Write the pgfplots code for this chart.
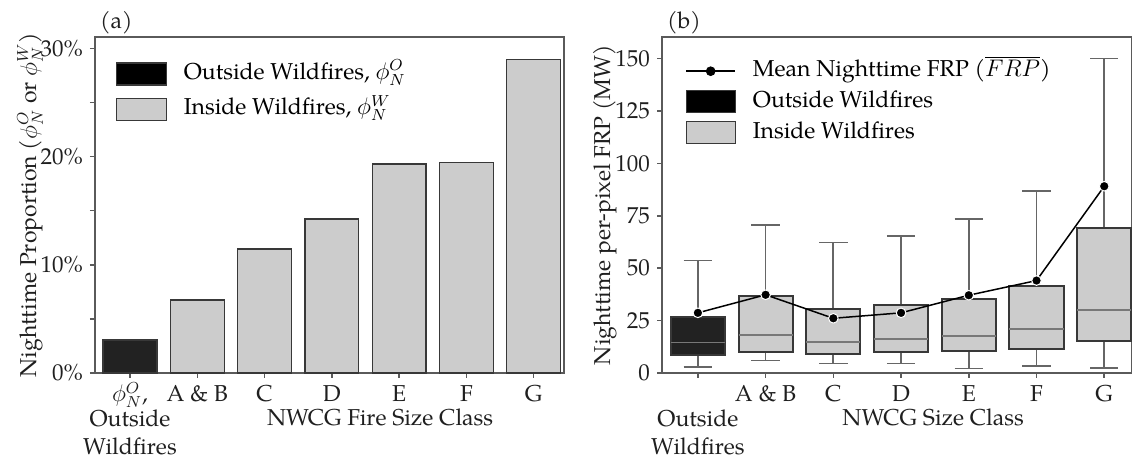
\documentclass[border=0pt]{standalone}
\usepackage{fontspec}
\setmainfont{TeX Gyre Pagella}
\usepackage{pgfplots}
\pgfplotsset{compat=1.18}
\usepgfplotslibrary{statistics}

\definecolor{axisgray}{HTML}{5A5A5A}
\definecolor{edgegray}{HTML}{383838}
\definecolor{whiskgray}{HTML}{666666}
\definecolor{medgray}{HTML}{787878}
\definecolor{darkfill}{HTML}{222222}
\definecolor{lightfill}{HTML}{CCCCCC}
\newcommand\fs{\fontsize{11.5}{14}\selectfont}

\pgfplotsset{
  panel/.style={
    scale only axis, width=234.5pt, height=168pt, clip=false,
    axis line style={draw=axisgray, line width=0.75pt},
    tick align=outside, major tick length=2.5pt, minor tick length=2.5pt,
    every tick/.style={draw=axisgray, line width=0.75pt},
    minor tick style={draw=axisgray, line width=0.75pt},
    xtick pos=bottom, ytick pos=left,
    tick label style={font=\fs, text=black!88},
    label style={font=\fs, text=black!88},
    ymin=0, xtick={0,...,6},
    xticklabel style={anchor=base, yshift=-12pt},
    legend style={font=\fs, draw=none, fill=none, inner sep=0pt,
      row sep=6pt, column sep=8.5pt, cells={anchor=west},
      nodes={inner sep=0pt, text height=8.5pt, text depth=2.8pt}},
  },
}

\begin{document}
\begin{tikzpicture}[font=\fs]
\useasboundingbox (0,0) rectangle (566pt,230pt);

% (a) nighttime proportion of detections by fire size class
\begin{axis}[panel, at={(47.5pt,43.5pt)}, anchor=south west,
  xmin=-0.52, xmax=6.45, ymax=31.05,
  ytick={0,10,20,30}, minor ytick={5,15,25},
  yticklabels={0\%,10\%,20\%,30\%},
  xticklabels={{$\phi_N^O$,},A \& B,C,D,E,F,G},
  ybar, bar width=0.8, bar shift=0pt,
  ylabel={Nighttime Proportion ($\phi_N^O$ or $\phi_N^W$)},
  ylabel style={at={(axis description cs:-0.124,0.5)}, anchor=base},
  xlabel={NWCG Fire Size Class},
  xlabel style={at={(axis description cs:0.608,-0.155)}, anchor=base},
  legend style={at={(axis description cs:0.043,0.926)}, anchor=north west},
]
\addplot[fill=darkfill, draw=edgegray, line width=0.65pt, forget plot]
  coordinates {(0,3.05)};
\addplot[fill=lightfill, draw=edgegray, line width=0.65pt, forget plot]
  coordinates {(1,6.75) (2,11.46) (3,14.23) (4,19.30) (5,19.44) (6,28.96)};
\addlegendimage{legend image code/.code={\draw[fill=black, draw=edgegray, line width=0.65pt] (0pt,-5.5pt) rectangle (25pt,5.5pt);}}
\addlegendentry{Outside Wildfires, $\phi_N^O$}
\addlegendimage{legend image code/.code={\draw[fill=lightfill, draw=edgegray, line width=0.65pt] (0pt,-5.5pt) rectangle (25pt,5.5pt);}}
\addlegendentry{Inside Wildfires, $\phi_N^W$}
\node[anchor=base, text=black!88] at (axis cs:0,0) [yshift=-27pt] {Outside};
\node[anchor=base, text=black!88] at (axis cs:0,0) [yshift=-41pt] {Wildfires};
\node[anchor=base west, text=black!88] at (axis description cs:0,1) [yshift=4pt, xshift=-1pt] {(a)};
\end{axis}

% (b) per-pixel nighttime FRP distributions
\begin{axis}[panel, at={(331pt,43.5pt)}, anchor=south west, width=235pt,
  xmin=-0.53, xmax=6.41, ymax=160.3,
  ytick={0,25,...,150},
  /pgf/number format/assume math mode=true,
  xticklabels={,A \& B,C,D,E,F,G},
  ylabel={Nighttime per-pixel FRP (MW)},
  ylabel style={at={(axis description cs:-0.11,0.5)}, anchor=base},
  xlabel={NWCG Size Class},
  xlabel style={at={(axis description cs:0.577,-0.155)}, anchor=base},
  legend style={at={(axis description cs:0.049,0.933)}, anchor=north west, row sep=3.8pt},
  boxplot/draw direction=y,
  boxplot/box extend=0.8, boxplot/whisker extend=0.42,
  boxplot/every whisker/.style={draw=whiskgray, line width=0.85pt},
  boxplot/every median/.style={draw=medgray, line width=0.85pt},
]
\addplot[forget plot, boxplot/every box/.style={fill=darkfill, draw=edgegray, line width=1pt},
  boxplot prepared={draw position=0, lower whisker=2.7, lower quartile=8.8,
    median=14.6, upper quartile=26.7, upper whisker=53.7}] coordinates {};
\addplot[forget plot, boxplot/every box/.style={fill=lightfill, draw=edgegray, line width=1pt},
  boxplot prepared={draw position=1, lower whisker=6.0, lower quartile=10.0,
    median=18.0, upper quartile=36.9, upper whisker=70.5}] coordinates {};
\addplot[forget plot, boxplot/every box/.style={fill=lightfill, draw=edgegray, line width=1pt},
  boxplot prepared={draw position=2, lower whisker=4.5, lower quartile=9.1,
    median=14.8, upper quartile=30.7, upper whisker=62.2}] coordinates {};
\addplot[forget plot, boxplot/every box/.style={fill=lightfill, draw=edgegray, line width=1pt},
  boxplot prepared={draw position=3, lower whisker=4.5, lower quartile=9.9,
    median=16.1, upper quartile=32.3, upper whisker=65.4}] coordinates {};
\addplot[forget plot, boxplot/every box/.style={fill=lightfill, draw=edgegray, line width=1pt},
  boxplot prepared={draw position=4, lower whisker=2.1, lower quartile=10.3,
    median=17.5, upper quartile=35.5, upper whisker=73.4}] coordinates {};
\addplot[forget plot, boxplot/every box/.style={fill=lightfill, draw=edgegray, line width=1pt},
  boxplot prepared={draw position=5, lower whisker=3.3, lower quartile=11.5,
    median=20.9, upper quartile=41.7, upper whisker=86.8}] coordinates {};
\addplot[forget plot, boxplot/every box/.style={fill=lightfill, draw=edgegray, line width=1pt},
  boxplot prepared={draw position=6, lower whisker=2.5, lower quartile=15.4,
    median=30.2, upper quartile=69.1, upper whisker=150.0}] coordinates {};
% mean nighttime FRP per class
\addplot[forget plot, black, line width=0.75pt, mark=*, mark size=2.4pt,
  mark options={fill=black, draw=white, line width=0.5pt}]
  coordinates {(0,28.7) (1,37.3) (2,26.1) (3,28.7) (4,37.1) (5,44.1) (6,89.1)};
\addlegendimage{legend image code/.code={\draw[black, line width=0.75pt] (0pt,0pt) -- (24.5pt,0pt); \fill[black] (12.25pt,0pt) circle (2.2pt);}}
\addlegendentry{Mean Nighttime FRP ($\overline{FRP}$)}
\addlegendimage{legend image code/.code={\draw[fill=black, draw=edgegray, line width=0.65pt] (0pt,-5.5pt) rectangle (24.5pt,5.5pt);}}
\addlegendentry{Outside Wildfires}
\addlegendimage{legend image code/.code={\draw[fill=lightfill, draw=edgegray, line width=0.65pt] (0pt,-5.5pt) rectangle (24.5pt,5.5pt);}}
\addlegendentry{Inside Wildfires}
\node[anchor=base, text=black!88] at (axis cs:0,0) [yshift=-27pt] {Outside};
\node[anchor=base, text=black!88] at (axis cs:0,0) [yshift=-41pt] {Wildfires};
\node[anchor=base west, text=black!88] at (axis description cs:0,1) [yshift=4pt, xshift=-1pt] {(b)};
\end{axis}
\end{tikzpicture}
\end{document}
